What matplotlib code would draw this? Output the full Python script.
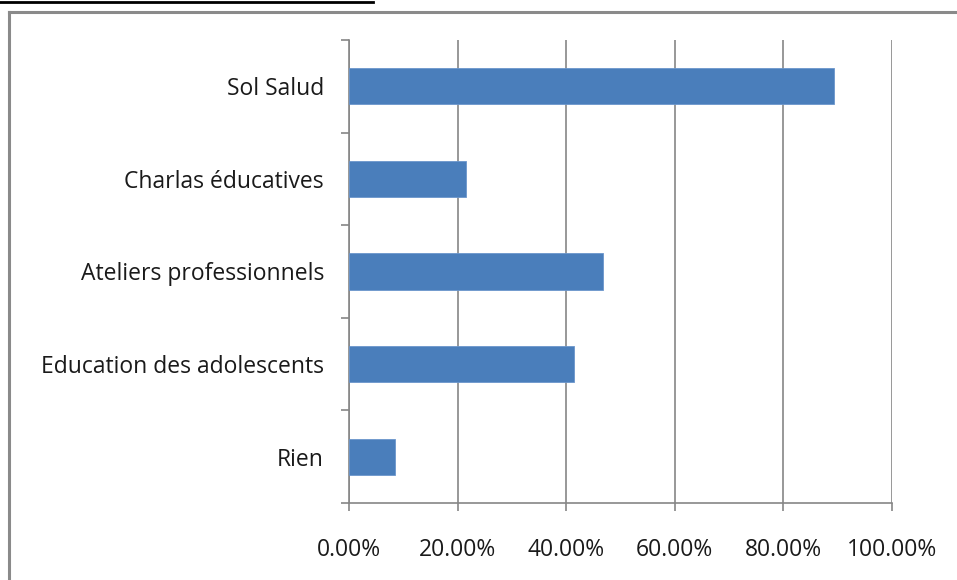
import numpy as np
import matplotlib
matplotlib.use('Agg')
import matplotlib.pyplot as plt
from matplotlib.lines import Line2D
from matplotlib.ticker import FuncFormatter

categories = ["Sol Salud", "Charlas éducatives", "Ateliers professionnels",
              "Education des adolescents", "Rien"]
values = [89.3, 21.5, 46.8, 41.4, 8.5]
xticks = [0, 20, 40, 60, 80, 100]

plt.rcParams['font.family'] = ['Open Sans', 'DejaVu Sans']

fig = plt.figure(figsize=(9.57, 5.80), dpi=100)
ax = fig.add_axes([0.3647, 0.1328, 0.5674, 0.7983])

pos = np.arange(len(categories))
ax.barh(pos, values, height=0.39, color='#4A7EBB', edgecolor='#6B96CC',
        linewidth=0.6, zorder=3)

ax.set_xlim(0, 100)
ax.set_ylim(len(categories) - 0.5, -0.5)
ax.set_xticks(xticks)
ax.xaxis.set_major_formatter(FuncFormatter(lambda v, p: f"{v:.2f}%"))
ax.grid(axis='x', color='#868686', linewidth=1.2, zorder=0)

# major ticks between categories, labels on minor ticks at centres
ax.set_yticks(np.arange(-0.5, len(categories), 1.0))
ax.set_yticklabels([])
ax.set_yticks(pos, minor=True)
ax.set_yticklabels(categories, minor=True)
ax.tick_params(axis='y', which='major', length=6, width=1.2, color='#868686',
               direction='out')
ax.tick_params(axis='y', which='minor', length=0, pad=18, labelsize=16.5,
               labelcolor='#1a1a1a')
ax.tick_params(axis='x', length=6, width=1.2, color='#868686', pad=19,
               labelsize=16.5, labelcolor='#1a1a1a')

for s in ['top', 'right']:
    ax.spines[s].set_visible(False)
for s in ['left', 'bottom']:
    ax.spines[s].set_color('#868686')
    ax.spines[s].set_linewidth(1.2)

# outer frame and underline above the chart
W, H = 957, 580
fig.add_artist(Line2D([0, 373 / W], [1 - 1.5 / H, 1 - 1.5 / H], color='black',
                      linewidth=2, transform=fig.transFigure))
fig.add_artist(Line2D([9 / W, 1], [1 - 12 / H, 1 - 12 / H], color='#8a8a8a',
                      linewidth=2.2, transform=fig.transFigure))
fig.add_artist(Line2D([9 / W, 9 / W], [0, 1 - 12 / H], color='#8a8a8a',
                      linewidth=2.2, transform=fig.transFigure))

fig.savefig('out.png', dpi=100)
